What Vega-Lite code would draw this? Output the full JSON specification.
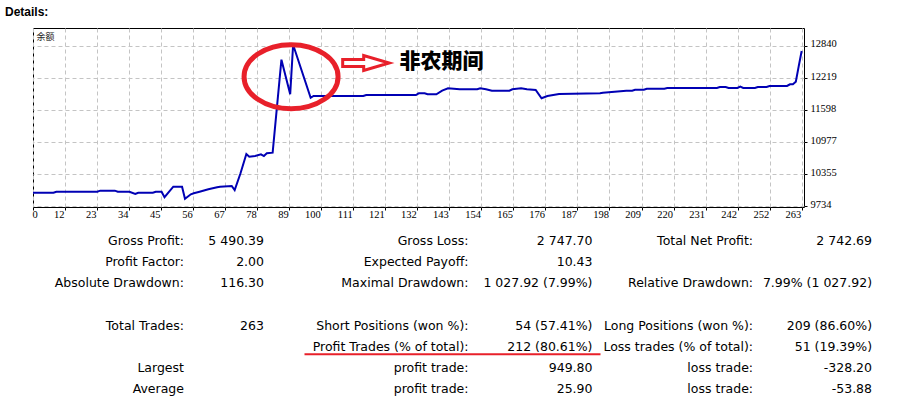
{
  "$schema": "https://vega.github.io/schema/vega-lite/v6.json",
  "background": "white",
  "padding": {"left": 5, "top": 5, "right": 0, "bottom": 0},
  "autosize": {"type": "pad"},
  "title": {"text": "Details:", "anchor": "start", "frame": "group", "dx": -28, "offset": 9, "font": "Liberation Sans", "fontSize": 12, "fontWeight": "bold", "color": "#000000"},
  "bounds": "flush",
  "spacing": 34,
  "config": {"view": {"stroke": null}},
  "datasets": {
    "balance": [
      {"trade": 0, "balance": 10000}, {"trade": 7, "balance": 10000}, {"trade": 8, "balance": 10020}, {"trade": 22, "balance": 10020},
      {"trade": 23, "balance": 10040}, {"trade": 28, "balance": 10040}, {"trade": 29, "balance": 10020}, {"trade": 33, "balance": 10020},
      {"trade": 35, "balance": 9976}, {"trade": 36, "balance": 10000}, {"trade": 41, "balance": 10000}, {"trade": 42, "balance": 10020},
      {"trade": 44, "balance": 10020}, {"trade": 45, "balance": 9915}, {"trade": 48, "balance": 10117}, {"trade": 51, "balance": 10117},
      {"trade": 52, "balance": 9883.7}, {"trade": 54, "balance": 9970}, {"trade": 55, "balance": 9989}, {"trade": 57, "balance": 10020},
      {"trade": 60, "balance": 10067}, {"trade": 63, "balance": 10106}, {"trade": 64, "balance": 10117}, {"trade": 68, "balance": 10131},
      {"trade": 69, "balance": 10053}, {"trade": 71, "balance": 10376}, {"trade": 73, "balance": 10750}, {"trade": 74, "balance": 10698},
      {"trade": 76, "balance": 10711}, {"trade": 78, "balance": 10744}, {"trade": 79, "balance": 10711}, {"trade": 80, "balance": 10763},
      {"trade": 82, "balance": 10775}, {"trade": 85, "balance": 12575}, {"trade": 88, "balance": 11905}, {"trade": 89, "balance": 12865},
      {"trade": 95, "balance": 11837}, {"trade": 96, "balance": 11872}, {"trade": 113, "balance": 11872}, {"trade": 114, "balance": 11891},
      {"trade": 131, "balance": 11891}, {"trade": 132, "balance": 11924}, {"trade": 134, "balance": 11924}, {"trade": 135, "balance": 11905},
      {"trade": 138, "balance": 11905}, {"trade": 140, "balance": 11975}, {"trade": 142, "balance": 12021}, {"trade": 146, "balance": 12002},
      {"trade": 152, "balance": 12002}, {"trade": 153, "balance": 12021}, {"trade": 155, "balance": 12002}, {"trade": 157, "balance": 11975},
      {"trade": 163, "balance": 11975}, {"trade": 164, "balance": 12002}, {"trade": 167, "balance": 12021}, {"trade": 169, "balance": 12002},
      {"trade": 172, "balance": 11989}, {"trade": 174, "balance": 11828}, {"trade": 176, "balance": 11872}, {"trade": 180, "balance": 11911},
      {"trade": 194, "balance": 11924}, {"trade": 195, "balance": 11936}, {"trade": 203, "balance": 11975}, {"trade": 205, "balance": 11975},
      {"trade": 206, "balance": 11994}, {"trade": 209, "balance": 11994}, {"trade": 210, "balance": 12013}, {"trade": 216, "balance": 12013},
      {"trade": 217, "balance": 12027}, {"trade": 234, "balance": 12027}, {"trade": 235, "balance": 12046}, {"trade": 237, "balance": 12046},
      {"trade": 238, "balance": 12027}, {"trade": 241, "balance": 12027}, {"trade": 242, "balance": 12052}, {"trade": 243, "balance": 12027},
      {"trade": 247, "balance": 12027}, {"trade": 248, "balance": 12046}, {"trade": 251, "balance": 12046}, {"trade": 252, "balance": 12066},
      {"trade": 258, "balance": 12066}, {"trade": 259, "balance": 12099}, {"trade": 260, "balance": 12099}, {"trade": 261, "balance": 12150},
      {"trade": 262, "balance": 12450}, {"trade": 263, "balance": 12742.69}
    ],
    "notes": [
      {"kind": "ellipse", "trade": 88.3, "balance": 12246, "text": ""},
      {"kind": "arrow", "trade": 114.0, "balance": 12511, "text": ""},
      {"kind": "label", "trade": 125.4, "balance": 12536, "text": "非农期间"},
      {"kind": "series", "trade": 1.2, "balance": 13023, "text": "余额"}
    ],
    "stats": [
      {"row": 0, "grp": "A", "label": "Gross Profit:", "value": "5 490.39", "highlight": false},
      {"row": 0, "grp": "B", "label": "Gross Loss:", "value": "2 747.70", "highlight": false},
      {"row": 0, "grp": "C", "label": "Total Net Profit:", "value": "2 742.69", "highlight": false},
      {"row": 1, "grp": "A", "label": "Profit Factor:", "value": "2.00", "highlight": false},
      {"row": 1, "grp": "B", "label": "Expected Payoff:", "value": "10.43", "highlight": false},
      {"row": 2, "grp": "A", "label": "Absolute Drawdown:", "value": "116.30", "highlight": false},
      {"row": 2, "grp": "B", "label": "Maximal Drawdown:", "value": "1 027.92 (7.99%)", "highlight": false},
      {"row": 2, "grp": "C", "label": "Relative Drawdown:", "value": "7.99% (1 027.92)", "highlight": false},
      {"row": 4, "grp": "A", "label": "Total Trades:", "value": "263", "highlight": false},
      {"row": 4, "grp": "B", "label": "Short Positions (won %):", "value": "54 (57.41%)", "highlight": false},
      {"row": 4, "grp": "C", "label": "Long Positions (won %):", "value": "209 (86.60%)", "highlight": false},
      {"row": 5, "grp": "B", "label": "Profit Trades (% of total):", "value": "212 (80.61%)", "highlight": true},
      {"row": 5, "grp": "C", "label": "Loss trades (% of total):", "value": "51 (19.39%)", "highlight": false},
      {"row": 6, "grp": "A", "label": "Largest", "value": "", "highlight": false},
      {"row": 6, "grp": "B", "label": "profit trade:", "value": "949.80", "highlight": false},
      {"row": 6, "grp": "C", "label": "loss trade:", "value": "-328.20", "highlight": false},
      {"row": 7, "grp": "A", "label": "Average", "value": "", "highlight": false},
      {"row": 7, "grp": "B", "label": "profit trade:", "value": "25.90", "highlight": false},
      {"row": 7, "grp": "C", "label": "loss trade:", "value": "-53.88", "highlight": false}
    ]
  },
  "vconcat": [
    {
      "width": 771,
      "height": 179,
      "view": {"stroke": "#000000", "strokeWidth": 1},
      "layer": [
        {
          "data": {"name": "balance"},
          "mark": {"type": "line", "color": "#0000b4", "strokeWidth": 2},
          "encoding": {
            "x": {
              "field": "trade", "type": "quantitative",
              "scale": {"domain": [0, 263.8], "nice": false, "zero": false},
              "axis": {
                "title": null,
                "values": [0, 10.9583, 21.9167, 32.875, 43.8333, 54.7917, 65.75, 76.7083, 87.6667, 98.625, 109.5833, 120.5417, 131.5, 142.4583, 153.4167, 164.375, 175.3333, 186.2917, 197.25, 208.2083, 219.1667, 230.125, 241.0833, 252.0417, 263],
                "tickCount": 40,
                "labelExpr": "['0','12','23','34','45','56','67','78','89','100','111','121','132','143','154','165','176','187','198','209','220','231','242','252','263'][round(datum.value*24/263)]",
                "grid": true, "gridColor": "#c4c4c4", "gridDash": [4, 3], "gridWidth": 1,
                "domain": false, "ticks": true, "tickSize": 3, "tickColor": "#000000",
                "labelOverlap": false, "labelFlush": false,
                "labelAlign": {"condition": {"test": "datum.value == 0", "value": "left"}, "value": "right"},
                "labelBaseline": "top", "labelPadding": -1, "labelOffset": -1,
                "labelFont": "Liberation Sans Narrow", "labelFontSize": 10.5, "labelColor": "#000000"
              }
            },
            "y": {
              "field": "balance", "type": "quantitative",
              "scale": {"domain": [9724, 13188], "nice": false, "zero": false},
              "axis": {
                "title": null, "orient": "right",
                "values": [9734, 10355, 10977, 11598, 12219, 12840],
                "tickCount": 12,
                "format": "d",
                "grid": true, "gridColor": "#c4c4c4", "gridDash": [4, 3], "gridWidth": 1,
                "domain": false, "ticks": true, "tickSize": 3, "tickColor": "#000000",
                "labelOverlap": false, "labelFlush": false,
                "labelAlign": "left", "labelBaseline": "middle", "labelPadding": 3, "labelOffset": -2,
                "labelFont": "Liberation Sans Narrow", "labelFontSize": 10.5, "labelColor": "#000000"
              }
            }
          }
        },
        {
          "data": {"name": "notes"},
          "transform": [{"filter": "datum.kind == 'ellipse'"}],
          "mark": {"type": "point", "shape": "M -47 0 A 47 32 0 1 0 47 0 A 47 32 0 1 0 -47 0 Z", "size": 4, "filled": false, "stroke": "#e8202a", "strokeWidth": 5, "opacity": 1},
          "encoding": {
            "x": {"field": "trade", "type": "quantitative"},
            "y": {"field": "balance", "type": "quantitative"}
          }
        },
        {
          "data": {"name": "notes"},
          "transform": [{"filter": "datum.kind == 'arrow'"}],
          "mark": {"type": "point", "shape": "M -23.5 -3.5 L -2.5 -3.5 L -2.5 -7.5 L 23 0 L -2.5 7.5 L -2.5 3.5 L -23.5 3.5 Z", "size": 4, "filled": true, "fill": "#ffffff", "stroke": "#e8202a", "strokeWidth": 3, "opacity": 1, "strokeJoin": "miter"},
          "encoding": {
            "x": {"field": "trade", "type": "quantitative"},
            "y": {"field": "balance", "type": "quantitative"}
          }
        },
        {
          "data": {"name": "notes"},
          "transform": [{"filter": "datum.kind == 'label'"}],
          "mark": {"type": "text", "align": "left", "baseline": "middle", "font": "Noto Sans CJK SC", "fontWeight": 900, "fontSize": 21, "color": "#000000"},
          "encoding": {
            "x": {"field": "trade", "type": "quantitative"},
            "y": {"field": "balance", "type": "quantitative"},
            "text": {"field": "text"}
          }
        },
        {
          "data": {"name": "notes"},
          "transform": [{"filter": "datum.kind == 'series'"}],
          "mark": {"type": "text", "align": "left", "baseline": "middle", "font": "Noto Sans CJK SC", "fontSize": 9, "color": "#222222"},
          "encoding": {
            "x": {"field": "trade", "type": "quantitative"},
            "y": {"field": "balance", "type": "quantitative"},
            "text": {"field": "text"}
          }
        }
      ]
    },
    {
      "width": 871,
      "height": 148,
      "view": {"stroke": null},
      "data": {"name": "stats"},
      "encoding": {
        "x": {"field": "grp", "type": "nominal", "scale": {"type": "point", "domain": ["A", "B", "C"], "padding": 0.5306}, "axis": null},
        "y": {"field": "row", "type": "ordinal", "scale": {"type": "point", "domain": [0, 1, 2, 3, 4, 5, 6, 7], "padding": 0}, "axis": null}
      },
      "layer": [
        {
          "mark": {"type": "text", "align": "right", "baseline": "middle", "font": "DejaVu Sans", "fontSize": 12.5, "color": "#000000"},
          "encoding": {"text": {"field": "label"}}
        },
        {
          "transform": [{"filter": "datum.grp == 'A'"}],
          "mark": {"type": "text", "align": "right", "baseline": "middle", "font": "DejaVu Sans", "fontSize": 12.5, "color": "#000000", "dx": 80},
          "encoding": {"text": {"field": "value"}}
        },
        {
          "transform": [{"filter": "datum.grp == 'B'"}],
          "mark": {"type": "text", "align": "right", "baseline": "middle", "font": "DejaVu Sans", "fontSize": 12.5, "color": "#000000", "dx": 124},
          "encoding": {"text": {"field": "value"}}
        },
        {
          "transform": [{"filter": "datum.grp == 'C'"}],
          "mark": {"type": "text", "align": "right", "baseline": "middle", "font": "DejaVu Sans", "fontSize": 12.5, "color": "#000000", "dx": 119},
          "encoding": {"text": {"field": "value"}}
        },
        {
          "transform": [{"filter": "datum.highlight"}],
          "mark": {"type": "point", "shape": "M -164 7.6 L 132 7.6", "size": 4, "filled": false, "stroke": "#e8202a", "strokeWidth": 2, "opacity": 1}
        }
      ]
    }
  ]
}
